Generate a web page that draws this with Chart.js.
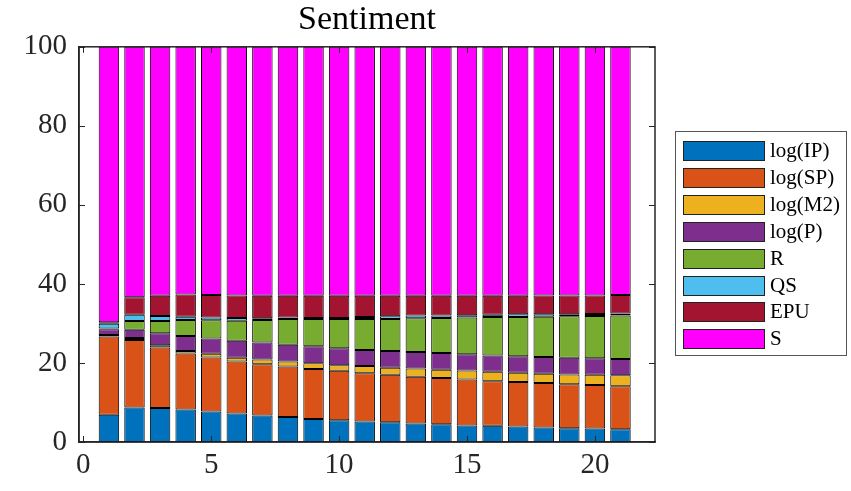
<!DOCTYPE html>
<html>
<head>
<meta charset="utf-8">
<script src="https://cdn.jsdelivr.net/npm/chart.js@4"></script>
<style>
  html, body { margin: 0; padding: 0; background: #fff; }
  #wrap { width: 851px; height: 491px; }
</style>
</head>
<body>
<div id="wrap"><canvas id="chart"></canvas></div>
<script>
// horizon (x) and series shares (%)
const horizons = [1, 2, 3, 4, 5, 6, 7, 8, 9, 10, 11, 12, 13, 14, 15, 16, 17, 18, 19, 20, 21];
const ipVals  = [6.9, 8.7, 8.6, 8.2, 7.7, 7.2, 6.7, 6.3, 5.8, 5.5, 5.2, 5.0, 4.7, 4.5, 4.2, 4.1, 3.9, 3.7, 3.5, 3.4, 3.2];
const spVals  = [19.8, 17.1, 15.3, 14.2, 13.7, 13.2, 13.0, 12.8, 12.7, 12.5, 12.2, 12.0, 11.8, 11.7, 11.6, 11.3, 11.3, 11.2, 11.1, 11.0, 10.9];
const m2Vals  = [0.4, 0.5, 0.6, 0.6, 0.9, 0.9, 1.2, 1.3, 1.4, 1.4, 1.8, 1.8, 2.1, 2.1, 2.3, 2.4, 2.3, 2.4, 2.5, 2.6, 2.8];
const pVals   = [1.4, 2.1, 3.0, 3.8, 3.9, 4.3, 4.3, 4.2, 4.3, 4.3, 4.1, 4.2, 4.2, 4.2, 4.1, 4.1, 4.2, 4.2, 4.2, 4.2, 4.1];
const rVals   = [0.2, 2.2, 3.1, 4.1, 4.6, 5.1, 5.7, 6.5, 6.9, 7.4, 7.8, 8.1, 8.5, 8.9, 9.3, 9.7, 9.9, 10.2, 10.5, 10.7, 11.0];
const qsVals  = [1.2, 1.6, 1.3, 0.8, 0.7, 0.7, 0.4, 0.4, 0.3, 0.3, 0.5, 0.7, 0.7, 0.6, 0.6, 0.6, 0.7, 0.6, 0.5, 0.5, 0.5];
const epuVals = [0.4, 4.4, 5.1, 5.6, 5.7, 5.7, 5.7, 5.5, 5.6, 5.6, 5.4, 5.2, 5.0, 5.0, 4.9, 4.8, 4.7, 4.8, 4.8, 4.7, 4.7];
const sVals   = [69.7, 63.4, 63.0, 62.7, 62.8, 62.9, 63.0, 63.0, 63.0, 63.0, 63.0, 63.0, 63.0, 63.0, 63.0, 63.0, 63.0, 62.9, 62.9, 62.9, 62.8];

const seriesNames = ['log(IP)', 'log(SP)', 'log(M2)', 'log(P)', 'R', 'QS', 'EPU', 'S'];
const seriesColors = ['#0072BD', '#D95319', '#EDB120', '#7E2F8E', '#77AC30', '#4DBEEE', '#A2142F', '#FF00FF'];
const xTicks = [0, 5, 10, 15, 20];
const yTicks = [0, 20, 40, 60, 80, 100];

const FONT = '"Liberation Serif", "Times New Roman", serif';
const AXIS = '#262626';

const allVals = [ipVals, spVals, m2Vals, pVals, rVals, qsVals, epuVals, sVals];
const datasets = allVals.map((vals, k) => ({
    label: seriesNames[k],
    data: vals.map((v, i) => ({ x: horizons[i], y: v })),
    backgroundColor: seriesColors[k],
    borderColor: '#000',
    borderWidth: 1,
    borderSkipped: false,
    barPercentage: 0.8,
    categoryPercentage: 1.0,
}));

// box around plot, inward tick marks and the legend
const framePlugin = {
    id: 'frame',
    afterDraw(chart) {
        const { ctx, chartArea: a, scales } = chart;
        ctx.save();
        ctx.strokeStyle = AXIS;
        ctx.lineWidth = 1.5;
        ctx.strokeRect(a.left, a.top, a.right - a.left, a.bottom - a.top);
        ctx.lineWidth = 1;
        xTicks.forEach(v => {
            const px = Math.round(scales.x.getPixelForValue(v)) + 0.5;
            ctx.beginPath();
            ctx.moveTo(px, a.bottom); ctx.lineTo(px, a.bottom - 6);
            ctx.moveTo(px, a.top); ctx.lineTo(px, a.top + 6);
            ctx.stroke();
        });
        yTicks.forEach(v => {
            const py = Math.round(scales.y.getPixelForValue(v)) + 0.5;
            ctx.beginPath();
            ctx.moveTo(a.left, py); ctx.lineTo(a.left + 6, py);
            ctx.moveTo(a.right, py); ctx.lineTo(a.right - 6, py);
            ctx.stroke();
        });

        // legend
        const lx = 675.5, ly = 131.5, lw = 171, lh = 224;
        ctx.fillStyle = '#fff';
        ctx.fillRect(lx, ly, lw, lh);
        ctx.strokeStyle = '#555';
        ctx.lineWidth = 1;
        ctx.strokeRect(lx, ly, lw, lh);
        ctx.font = '21px ' + FONT;
        ctx.textBaseline = 'middle';
        chart.data.datasets.forEach((ds, i) => {
            const top = Math.round(141 + i * 26.9);
            ctx.fillStyle = ds.backgroundColor;
            ctx.fillRect(683, top, 81, 19);
            ctx.strokeStyle = '#222';
            ctx.strokeRect(683.5, top + 0.5, 81, 19);
            ctx.fillStyle = '#000';
            ctx.fillText(ds.label, 770, top + 10);
        });
        ctx.restore();
    }
};

new Chart(document.getElementById('chart').getContext('2d'), {
    type: 'bar',
    data: { datasets: datasets },
    options: {
        responsive: true,
        maintainAspectRatio: false,
        animation: false,
        layout: { padding: { left: 0, right: 196, top: 0, bottom: 0 } },
        plugins: {
            legend: { display: false },
            tooltip: { enabled: false },
            title: {
                display: true,
                text: 'Sentiment',
                fullSize: false,
                color: '#000',
                font: { family: FONT, size: 34, weight: 'normal', lineHeight: 1.2 },
                padding: { top: 0, bottom: 6 },
            },
        },
        scales: {
            x: {
                type: 'linear',
                stacked: true,
                offset: false,
                min: -0.17,
                max: 22.35,
                grid: { display: false, drawTicks: false, offset: false },
                border: { display: true, color: AXIS, width: 1.5 },
                afterBuildTicks: s => { s.ticks = xTicks.map(v => ({ value: v })); },
                afterFit: s => { s.height = 49; },
                ticks: { color: AXIS, padding: 6, font: { family: FONT, size: 29 }, maxRotation: 0 },
            },
            y: {
                stacked: true,
                min: 0,
                max: 100,
                grid: { display: false, drawTicks: false },
                border: { display: true, color: AXIS, width: 1.5 },
                afterBuildTicks: s => { s.ticks = yTicks.map(v => ({ value: v })); },
                afterFit: s => { s.width = 79; },
                ticks: { color: AXIS, padding: 12, font: { family: FONT, size: 29 } },
            },
        },
    },
    plugins: [framePlugin],
});
</script>
</body>
</html>
